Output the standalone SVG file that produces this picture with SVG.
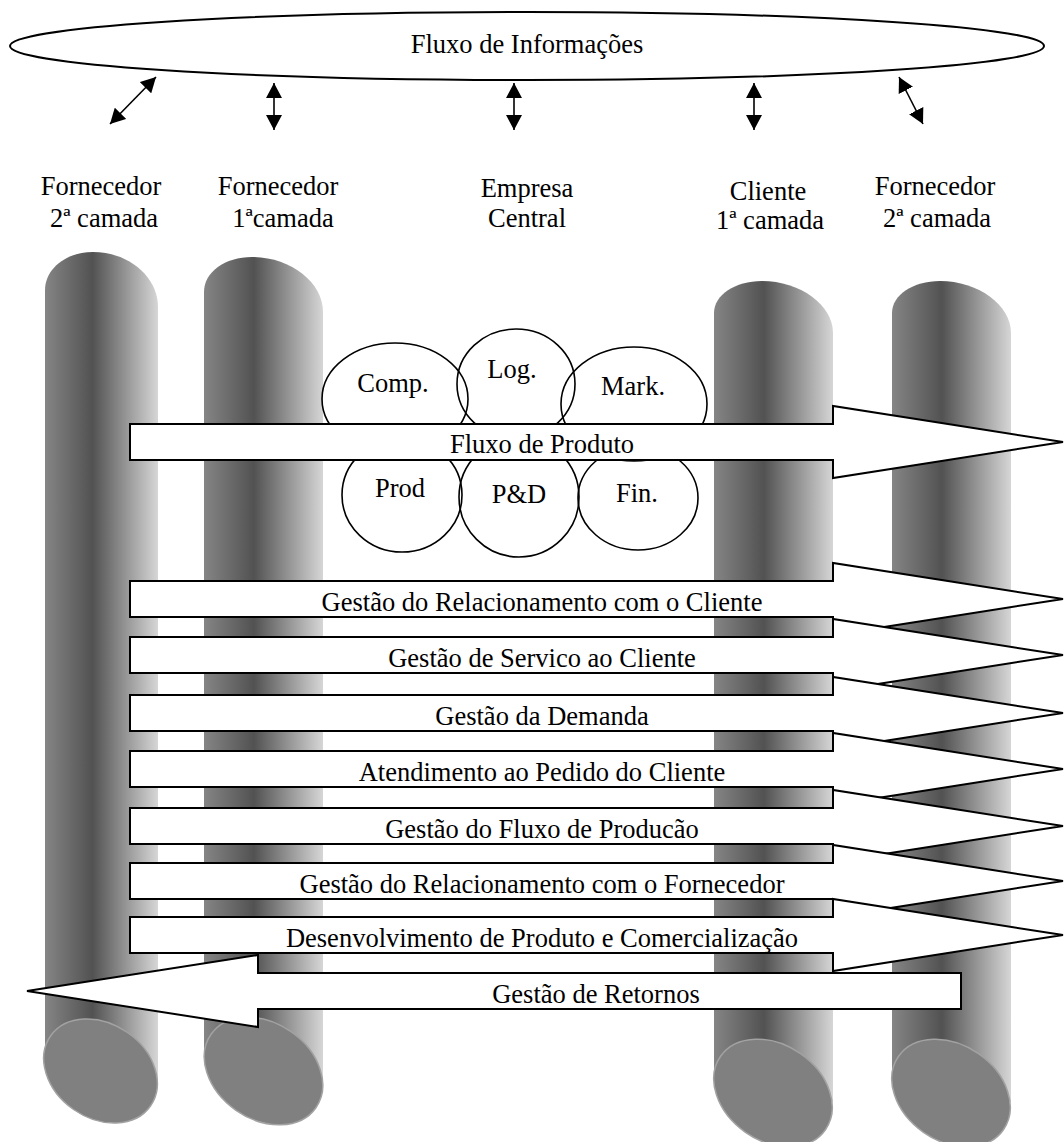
<svg xmlns="http://www.w3.org/2000/svg" width="1064" height="1142" viewBox="0 0 1064 1142">
  <style>
    text { font-family: "Liberation Serif", "Times New Roman", serif; font-size: 26.5px; fill: #000; text-anchor: middle; }
    .pillar { fill: url(#pillarShade); }
    .cap { fill: #808080; stroke: #a2a2a2; stroke-width: 1.5; }
    .dept { fill: none; stroke: #000; stroke-width: 1.6; }
    .flow { fill: #fff; stroke: #000; stroke-width: 2; stroke-linejoin: miter; }
    .info { fill: #fff; stroke: #000; stroke-width: 2; }
    .link { stroke: #000; stroke-width: 1.6; fill: none; marker-start: url(#head); marker-end: url(#head); }
  </style>
  <defs>
    <linearGradient id="pillarShade" x1="0" y1="0" x2="1" y2="0">
      <stop offset="0" stop-color="#858585"/>
      <stop offset="0.42" stop-color="#525252"/>
      <stop offset="1" stop-color="#d6d6d6"/>
    </linearGradient>
    <marker id="head" viewBox="0 0 15 16" refX="15" refY="8" markerWidth="15" markerHeight="16" markerUnits="userSpaceOnUse" orient="auto-start-reverse">
      <path d="M0,0 L15,8 L0,16 Z" fill="#000"/>
    </marker>
  </defs>

  <rect width="1064" height="1142" fill="#fff"/>

  <!-- information flow ellipse -->
  <g id="info-flow">
    <ellipse class="info" cx="527" cy="46" rx="517" ry="34"/>
    <text x="527" y="53">Fluxo de Informações</text>
  </g>

  <!-- links between the information flow and each tier -->
  <g id="info-links">
    <line class="link" x1="110" y1="124" x2="156" y2="77"/>
    <line class="link" x1="274" y1="83" x2="274" y2="130"/>
    <line class="link" x1="514" y1="83" x2="514" y2="130"/>
    <line class="link" x1="754" y1="83" x2="754" y2="130"/>
    <line class="link" x1="899" y1="77" x2="923" y2="124"/>
  </g>

  <!-- tier headings -->
  <g id="label-supplier-2">
    <text x="101" y="195">Fornecedor</text>
    <text x="104" y="227">2ª camada</text>
  </g>
  <g id="label-supplier-1">
    <text x="278" y="195">Fornecedor</text>
    <text x="283" y="227">1ªcamada</text>
  </g>
  <g id="label-company">
    <text x="527" y="197">Empresa</text>
    <text x="527" y="227">Central</text>
  </g>
  <g id="label-customer-1">
    <text x="768" y="200">Cliente</text>
    <text x="770" y="229">1ª camada</text>
  </g>
  <g id="label-supplier-2b">
    <text x="935" y="195">Fornecedor</text>
    <text x="937" y="227">2ª camada</text>
  </g>

  <!-- pillars (cylinders) -->
  <g id="pillar-supplier-2">
    <path class="pillar" d="M45,1063 L45,290 C45,269 66,252 93,252 C129,252 158,277 158,307 L158,1080 Z"/>
    <ellipse class="cap" cx="100.5" cy="1071" rx="61" ry="47" transform="rotate(35 100.5 1071)"/>
  </g>
  <g id="pillar-supplier-1">
    <path class="pillar" d="M204,1063 L204,292 C204,272 225,257 252,257 C290,257 323,282 323,312 L323,1080 Z"/>
    <ellipse class="cap" cx="263.5" cy="1071" rx="64" ry="48" transform="rotate(35 263.5 1071)"/>
  </g>
  <g id="pillar-customer-1">
    <path class="pillar" d="M714,1085 L714,313 C714,295 735,281 762,281 C800,281 833,305 833,333 L833,1102 Z"/>
    <ellipse class="cap" cx="773" cy="1093" rx="64" ry="48" transform="rotate(35 773 1093)"/>
  </g>
  <g id="pillar-supplier-2b">
    <path class="pillar" d="M892,1085 L892,313 C892,295 913,281 940,281 C978,281 1011,305 1011,333 L1011,1102 Z"/>
    <ellipse class="cap" cx="951" cy="1093" rx="64" ry="48" transform="rotate(35 951 1093)"/>
  </g>

  <!-- functional areas of the central company -->
  <g id="dept-comp">
    <ellipse class="dept" cx="395" cy="399" rx="73" ry="56"/>
    <text x="393" y="392">Comp.</text>
  </g>
  <g id="dept-log">
    <ellipse class="dept" cx="516" cy="384" rx="59" ry="55"/>
    <text x="512" y="378">Log.</text>
  </g>
  <g id="dept-mark">
    <ellipse class="dept" cx="634" cy="404" rx="73" ry="57"/>
    <text x="633" y="395">Mark.</text>
  </g>
  <g id="dept-prod">
    <ellipse class="dept" cx="402" cy="495" rx="60" ry="57"/>
    <text x="400" y="497">Prod</text>
  </g>
  <g id="dept-pd">
    <ellipse class="dept" cx="519" cy="497" rx="60" ry="60"/>
    <text x="519" y="503">P&amp;D</text>
  </g>
  <g id="dept-fin">
    <ellipse class="dept" cx="638" cy="498" rx="60" ry="52"/>
    <text x="637" y="502">Fin.</text>
  </g>

  <!-- process arrows -->
  <g id="flows">
    <g id="flow-product">
      <polygon class="flow" points="130,424 833,424 833,406 1063,442 833,478 833,460 130,460"/>
      <text x="542" y="453">Fluxo de Produto</text>
    </g>
    <g id="flow-crm">
      <polygon class="flow" points="130,581 833,581 833,563 1063,599 833,635 833,617 130,617"/>
      <text x="542" y="610.5">Gestão do Relacionamento com o Cliente</text>
    </g>
    <g id="flow-service">
      <polygon class="flow" points="130,637 833,637 833,619 1063,655 833,691 833,673 130,673"/>
      <text x="542" y="666.5">Gestão de Servico ao Cliente</text>
    </g>
    <g id="flow-demand">
      <polygon class="flow" points="130,695 833,695 833,677 1063,713 833,749 833,731 130,731"/>
      <text x="542" y="724.5">Gestão da Demanda</text>
    </g>
    <g id="flow-order">
      <polygon class="flow" points="130,751 833,751 833,733 1063,769 833,805 833,787 130,787"/>
      <text x="542" y="780.5">Atendimento ao Pedido do Cliente</text>
    </g>
    <g id="flow-manufacturing">
      <polygon class="flow" points="130,808 833,808 833,790 1063,826 833,862 833,844 130,844"/>
      <text x="542" y="837.5">Gestão do Fluxo de Producão</text>
    </g>
    <g id="flow-srm">
      <polygon class="flow" points="130,863 833,863 833,845 1063,881 833,917 833,899 130,899"/>
      <text x="542" y="892.5">Gestão do Relacionamento com o Fornecedor</text>
    </g>
    <g id="flow-development">
      <polygon class="flow" points="130,917 833,917 833,899 1063,935 833,971 833,953 130,953"/>
      <text x="542" y="946.5">Desenvolvimento de Produto e Comercialização</text>
    </g>
    <g id="flow-returns">
      <polygon class="flow" points="961,973 258,973 258,955 27,991 258,1027 258,1009 961,1009"/>
      <text x="596" y="1002.5">Gestão de Retornos</text>
    </g>
  </g>
</svg>
